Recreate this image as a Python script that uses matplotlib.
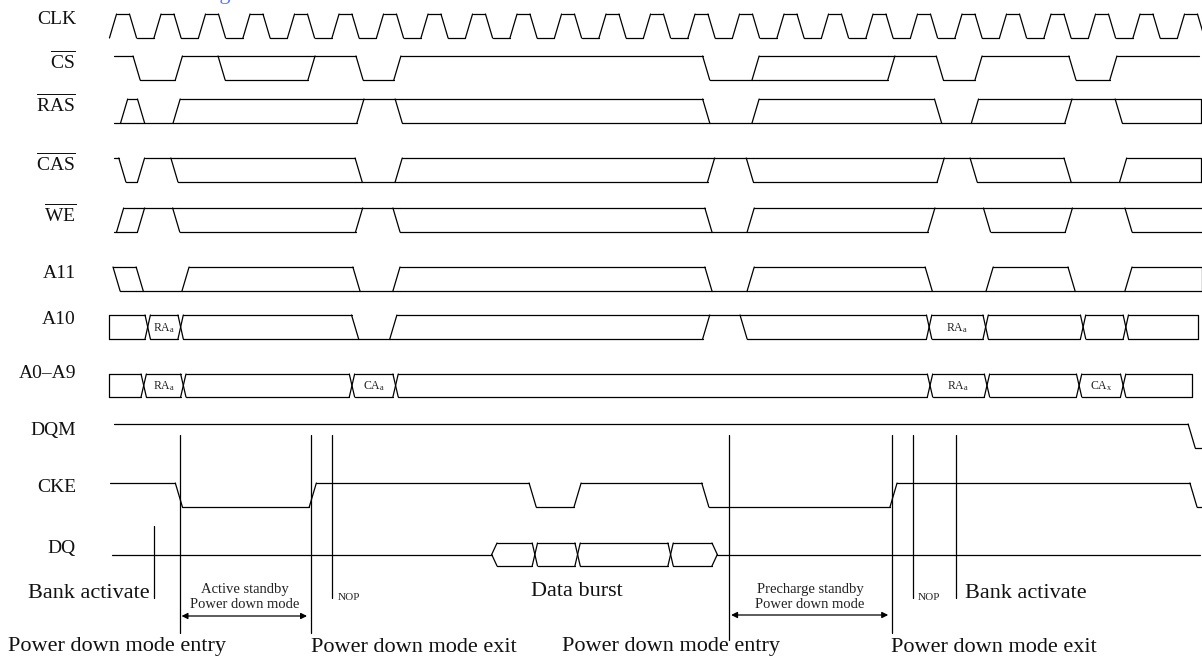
import matplotlib
matplotlib.use("Agg")
import matplotlib.pyplot as plt
from matplotlib.collections import LineCollection

plt.rcParams["font.family"] = ["Liberation Serif", "DejaVu Serif"]
plt.rcParams["mathtext.fontset"] = "custom"
plt.rcParams["mathtext.rm"] = "Liberation Serif"
plt.rcParams["mathtext.it"] = "Liberation Serif:italic"

# ---- timing data, time in clock periods (CLK rising edges at integers)
# H = high, L = low, X = both rails (don't care / bus), M = mid (tri-state)
clk_cycles = 25
clk_fall = 0.45

cs_start, cs_end = 0.02, 24.40
cs_states = ["H", "L", "H", "X", "H", "L", "H", "L", "X", "H", "L", "H", "L", "H"]
cs_edges = [0.53, 1.48, 2.44, 4.46, 5.54, 6.39, 13.33, 14.44, 17.49, 18.58, 19.45, 21.56, 22.48]

ras_start, ras_end = 0.02, 24.45
ras_states = ["L", "X", "L", "X", "H", "X", "L", "X", "L", "X", "H", "X"]
ras_edges = [0.25, 0.63, 1.43, 5.56, 6.42, 13.33, 14.44, 18.54, 19.37, 21.47, 22.60]

cas_start, cas_end = 0.02, 24.45
cas_states = ["H", "L", "H", "X", "L", "X", "H", "X", "H", "X", "L", "X"]
cas_edges = [0.21, 0.63, 1.38, 5.52, 6.42, 13.44, 14.31, 18.60, 19.34, 21.45, 22.70]

we_start, we_end = 0.02, 24.47
we_states = ["L", "X", "H", "X", "H", "X", "L", "X", "H", "X", "H", "X"]
we_edges = [0.16, 0.63, 1.42, 5.53, 6.37, 13.38, 14.33, 18.39, 19.64, 21.48, 22.82]

a11_start, a11_end = 0.0, 24.47
a11_states = ["H", "X", "L", "X", "L", "X", "L", "X", "L", "X", "L", "X"]
a11_edges = [0.08, 0.60, 1.63, 5.47, 6.37, 13.38, 14.33, 18.33, 19.70, 21.54, 22.82]

a10_start, a10_end = -0.09, 24.38
a10_states = ["X", "X", "X", "L", "X", "H", "X", "X", "X", "X", "X"]
a10_edges = [0.78, 1.52, 5.44, 6.30, 13.33, 14.17, 18.34, 19.61, 21.80, 22.76]
a10_values = ["", "RA$_{\\mathrm{a}}$", "", "", "", "", "", "RA$_{\\mathrm{a}}$", "", "", ""]

addr_start, addr_end = -0.09, 24.25
addr_states = ["X"] * 9
addr_edges = [0.69, 1.58, 5.37, 6.35, 18.36, 19.64, 21.71, 22.70]
addr_values = ["", "RA$_{\\mathrm{a}}$", "", "CA$_{\\mathrm{a}}$", "", "RA$_{\\mathrm{a}}$", "",
               "CA$_{\\mathrm{x}}$", ""]

dqm_start, dqm_end = 0.02, 24.47
dqm_states = ["H", "L"]
dqm_edges = [24.24]

cke_start, cke_end = -0.07, 24.47
cke_states = ["H", "L", "H", "L", "H", "L", "H", "L"]
cke_edges = [1.48, 4.49, 9.43, 10.44, 13.31, 17.54, 24.28]

dq_start, dq_end = -0.02, 24.43
dq_states = ["M", "X", "X", "X", "X", "M"]
dq_edges = [8.57, 9.48, 10.44, 12.53, 13.52]

row_names = ["CLK", r"$\overline{\mathrm{CS}}$", r"$\overline{\mathrm{RAS}}$",
             r"$\overline{\mathrm{CAS}}$", r"$\overline{\mathrm{WE}}$", "A11", "A10",
             "A0–A9", "DQM", "CKE", "DQ"]

# event markers (time)
mark_t = [0.92, 1.51, 4.45, 4.92, 13.84, 17.51, 17.98, 18.94]

# ---- layout (pixel space of a 1202 x 660 canvas)
W, H = 1202, 660
X0, P = 113.0, 44.5          # pixel of t=0, pixels per clock
EDGE_W, BUS_W = 0.16, 0.12
row_top = [14, 56, 99, 158, 208, 267, 315, 374, 424, 483, 543]
row_bot = [38, 80, 123, 182, 232, 291, 339, 397, 448, 507, 566]
label_y = [20, 61, 104, 163, 214, 273, 320, 373, 430, 488, 548]
mark_top = [526, 435, 435, 435, 435, 435, 435, 435]
mark_bot = [598, 633, 633, 598, 640, 633, 598, 598]

TRANS = {
    ("H", "L"): [("t", "b")], ("L", "H"): [("b", "t")],
    ("H", "X"): [("t", "t"), ("t", "b")], ("L", "X"): [("b", "b"), ("b", "t")],
    ("X", "H"): [("t", "t"), ("b", "t")], ("X", "L"): [("b", "b"), ("t", "b")],
    ("X", "X"): [("t", "b"), ("b", "t")],
    ("M", "X"): [("m", "t"), ("m", "b")], ("X", "M"): [("t", "m"), ("b", "m")],
}
LEVELS = {"H": "t", "L": "b", "X": "tb", "M": "m"}

fig = plt.figure(figsize=(W / 100, H / 100), dpi=100)
ax = fig.add_axes([0, 0, 1, 1])
ax.set_xlim(-X0 / P, (W - X0) / P)
ax.set_ylim(H, 0)
ax.axis("off")

segs = []


def draw_row(r, start, states, edges, end, values=None, box_start=False, box_end=False):
    ys = {"t": row_top[r], "b": row_bot[r], "m": (row_top[r] + row_bot[r]) / 2}
    half = []
    for i in range(len(edges)):
        pair = (states[i], states[i + 1])
        half.append((BUS_W if pair in [("X", "X"), ("M", "X"), ("X", "M")] else EDGE_W) / 2)
    for i, s in enumerate(states):
        a = start if i == 0 else edges[i - 1] + half[i - 1]
        b = end if i == len(edges) else edges[i] - half[i]
        for lv in LEVELS[s]:
            segs.append([(a, ys[lv]), (b, ys[lv])])
        if values and values[i]:
            ax.text((a + b) / 2, ys["m"] + 1, values[i], ha="center", va="center",
                    fontsize=8.5, color="#222222")
    for i, e in enumerate(edges):
        for p, q in TRANS[(states[i], states[i + 1])]:
            segs.append([(e - half[i], ys[p]), (e + half[i], ys[q])])
    if box_start:
        segs.append([(start, ys["t"]), (start, ys["b"])])
    if box_end:
        segs.append([(end, ys["t"]), (end, ys["b"])])


# clock
clk_states = ["L"]
clk_edges = []
for k in range(clk_cycles):
    clk_edges += [k, k + clk_fall]
    clk_states += ["H", "L"]
draw_row(0, -0.08, clk_states, clk_edges, clk_cycles - 1 + 0.53)

draw_row(1, cs_start, cs_states, cs_edges, cs_end)
draw_row(2, ras_start, ras_states, ras_edges, ras_end, box_end=True)
draw_row(3, cas_start, cas_states, cas_edges, cas_end, box_end=True)
draw_row(4, we_start, we_states, we_edges, we_end)
draw_row(5, a11_start, a11_states, a11_edges, a11_end, box_end=True)
draw_row(6, a10_start, a10_states, a10_edges, a10_end, a10_values, box_start=True, box_end=True)
draw_row(7, addr_start, addr_states, addr_edges, addr_end, addr_values, box_start=True, box_end=True)
draw_row(8, dqm_start, dqm_states, dqm_edges, dqm_end)
draw_row(9, cke_start, cke_states, cke_edges, cke_end)
draw_row(10, dq_start, dq_states, dq_edges, dq_end)

for t, y0, y1 in zip(mark_t, mark_top, mark_bot):
    segs.append([(t, y0), (t, y1)])

ax.add_collection(LineCollection(segs, colors="black", linewidths=0.9, capstyle="round"))

for name, y in zip(row_names, label_y):
    ax.text((76 - X0) / P, y, name, ha="right", va="center", fontsize=14, color="#111111")


def px(x):
    return (x - X0) / P


# caption above the diagram; only its lowest strip shows at the top edge, as in the source
ax.text(px(0), -1.5, "Power down mode timing waveform", color="#5a78e6",
        fontsize=16, ha="left", va="baseline")

big = dict(fontsize=16, color="#111111", va="center")
small = dict(fontsize=10.5, color="#222222", ha="center", va="center", linespacing=1.25)

ax.text(mark_t[0] - 0.09, 594, "Bank activate", ha="right", **big)
ax.text(px(245), 597, "Active standby\nPower down mode", **small)
ax.text(mark_t[3] + 0.13, 597, "NOP", fontsize=8, color="#222222", ha="left", va="center")
ax.text(px(577), 592, "Data burst", ha="center", **big)
ax.text(px(810), 597, "Precharge standby\nPower down mode", **small)
ax.text(mark_t[6] + 0.11, 597, "NOP", fontsize=8, color="#222222", ha="left", va="center")
ax.text(mark_t[7] + 0.2, 594, "Bank activate", ha="left", **big)
ax.text(px(8), 647, "Power down mode entry", ha="left", **big)
ax.text(mark_t[2], 647, "Power down mode exit", ha="left", **big)
ax.text(px(562), 647, "Power down mode entry", ha="left", **big)
ax.text(mark_t[5] - 0.03, 647, "Power down mode exit", ha="left", **big)

arrow = dict(arrowstyle="<|-|>", color="black", lw=0.9, mutation_scale=9,
             shrinkA=0, shrinkB=0)
ax.annotate("", xy=(mark_t[1] + 0.03, 616), xytext=(mark_t[2] - 0.09, 616), arrowprops=arrow)
ax.annotate("", xy=(mark_t[4] + 0.05, 615), xytext=(mark_t[5] - 0.09, 615), arrowprops=arrow)

fig.savefig("out.png", dpi=100)
